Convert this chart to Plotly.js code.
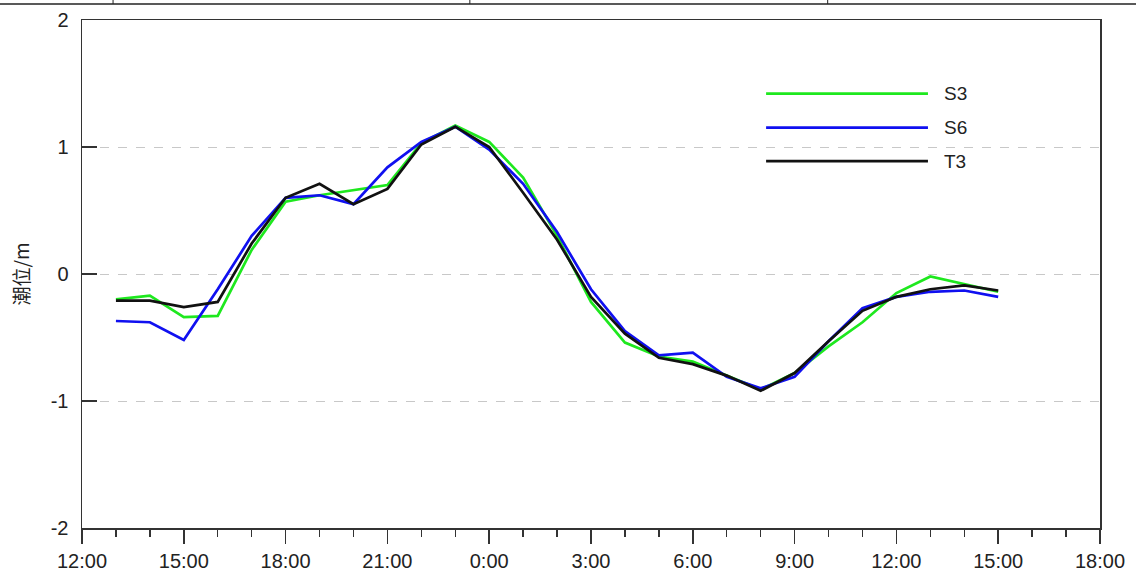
<!DOCTYPE html>
<html>
<head>
<meta charset="utf-8">
<script src="https://cdn.plot.ly/plotly-3.0.1.min.js"></script>
<style>html,body{margin:0;padding:0;background:#fff;}#chart{width:1136px;height:585px;}</style>
</head>
<body>
<div id="chart"></div>
<script>
const times = [
  '2020-01-01 13:00','2020-01-01 14:00','2020-01-01 15:00','2020-01-01 16:00','2020-01-01 17:00',
  '2020-01-01 18:00','2020-01-01 19:00','2020-01-01 20:00','2020-01-01 21:00','2020-01-01 22:00',
  '2020-01-01 23:00','2020-01-02 00:00','2020-01-02 01:00','2020-01-02 02:00','2020-01-02 03:00',
  '2020-01-02 04:00','2020-01-02 05:00','2020-01-02 06:00','2020-01-02 07:00','2020-01-02 08:00',
  '2020-01-02 09:00','2020-01-02 10:00','2020-01-02 11:00','2020-01-02 12:00','2020-01-02 13:00',
  '2020-01-02 14:00','2020-01-02 15:00'
];
const s3 = [-0.20,-0.17,-0.34,-0.33,0.19,0.57,0.62,0.66,0.70,1.03,1.17,1.04,0.76,0.30,-0.22,-0.54,-0.65,-0.69,-0.80,-0.91,-0.78,-0.57,-0.38,-0.15,-0.02,-0.08,-0.14];
const s6 = [-0.37,-0.38,-0.52,-0.12,0.30,0.60,0.62,0.55,0.84,1.04,1.16,0.98,0.71,0.33,-0.12,-0.45,-0.64,-0.62,-0.81,-0.90,-0.81,-0.53,-0.27,-0.18,-0.14,-0.13,-0.18];
const t3 = [-0.21,-0.21,-0.26,-0.22,0.24,0.60,0.71,0.55,0.67,1.02,1.16,1.00,0.64,0.27,-0.18,-0.47,-0.66,-0.71,-0.80,-0.92,-0.78,-0.53,-0.29,-0.18,-0.12,-0.09,-0.13];
const seriesNames = ['S3','S6','T3'];
const seriesColors = ['#1ee81e','#1010f0','#111111'];
const seriesData = [s3, s6, t3];
const yTickVals = [-2,-1,0,1,2];
const yTickText = ['-2','-1','0','1','2'];
const yTitle = '潮位/m';

const traces = seriesData.map((d,i)=>({
  x: times, y: d, type:'scatter', mode:'lines', name: seriesNames[i],
  line:{color: seriesColors[i], width:2.7}, showlegend:false
}));

// custom legend (long line samples like the reference)
const shapes = [];
const annotations = [];
const legY = [0.855, 0.788, 0.722];
seriesNames.forEach((n,i)=>{
  shapes.push({type:'line', xref:'paper', yref:'paper', x0:0.672, x1:0.831, y0:legY[i], y1:legY[i],
    line:{color:seriesColors[i], width:2.7}});
  annotations.push({xref:'paper', yref:'paper', x:0.845, y:legY[i], text:n, showarrow:false,
    xanchor:'left', yanchor:'middle', font:{size:19, color:'#222', family:'Liberation Sans, Arial, sans-serif'}});
});
// cropped table frame at the top of the picture
shapes.push({type:'line', xref:'paper', yref:'paper', x0:-0.09, x1:1.04, y0:1.0315, y1:1.0315, line:{color:'#222', width:1.5}});
[0.0305, 0.381, 0.7325].forEach(x=>{
  shapes.push({type:'line', xref:'paper', yref:'paper', x0:x, x1:x, y0:1.0315, y1:1.045, line:{color:'#222', width:1}});
});

const layout = {
  width:1136, height:585,
  margin:{l:82, r:36, t:20, b:57},
  paper_bgcolor:'#fff', plot_bgcolor:'#fff',
  font:{family:'Liberation Sans, Arial, sans-serif', size:20, color:'#222'},
  xaxis:{
    type:'date',
    range:['2020-01-01 12:00','2020-01-02 18:00'],
    tick0:'2020-01-01 12:00', dtick:3*3600000,
    tickformat:'%-H:%M',
    ticks:'outside', ticklen:14, tickwidth:1.5, tickcolor:'#333',
    minor:{dtick:3600000, ticks:'outside', ticklen:7, tickwidth:1.5, tickcolor:'#333', showgrid:false},
    showgrid:false, zeroline:false,
    showline:true, linecolor:'#333', linewidth:1.5, mirror:true,
    tickfont:{size:20, color:'#222'}
  },
  yaxis:{
    range:[-2,2], tickmode:'array', tickvals:yTickVals, ticktext:yTickText,
    ticks:'inside', ticklen:15, tickwidth:1.5, tickcolor:'#333',
    ticklabelstandoff:8,
    showgrid:true, gridcolor:'#c8c8c8', griddash:'dash', gridwidth:1,
    zeroline:false,
    showline:true, linecolor:'#333', linewidth:1.5, mirror:true,
    tickfont:{size:20, color:'#222'},
    title:{text:yTitle, font:{size:19, color:'#222', family:'Noto Sans CJK SC, sans-serif'}, standoff:16}
  },
  shapes: shapes,
  annotations: annotations,
  showlegend:false
};
Plotly.newPlot('chart', traces, layout, {displayModeBar:false, staticPlot:true});
</script>
</body>
</html>
